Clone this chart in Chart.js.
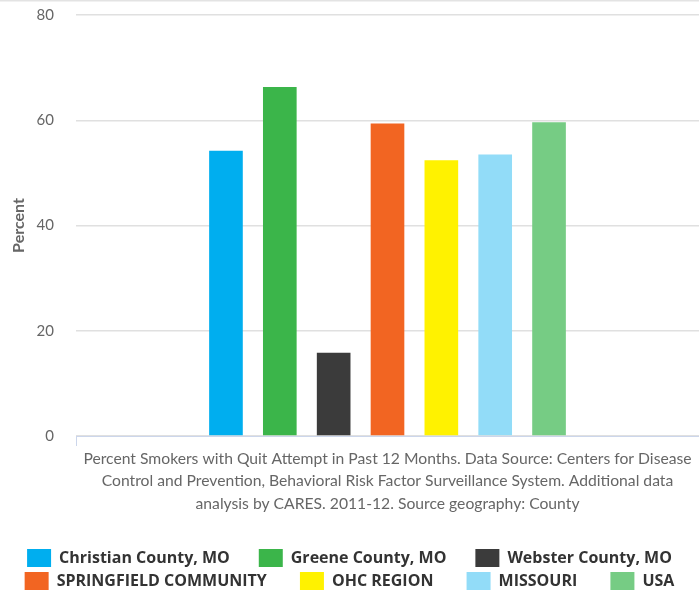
<!DOCTYPE html>
<html>
<head>
<meta charset="utf-8">
<script src="https://cdn.jsdelivr.net/npm/chart.js@4"></script>
<style>
  html, body { margin: 0; padding: 0; background: #ffffff; }
  #wrap { width: 699px; height: 590px; position: relative; }
</style>
</head>
<body>
<div id="wrap"><canvas id="c" width="699" height="590"></canvas></div>
<script>
// ---- data ----
const categoryLabel = [
  "Percent Smokers with Quit Attempt in Past 12 Months. Data Source: Centers for Disease",
  "Control and Prevention, Behavioral Risk Factor Surveillance System. Additional data",
  "analysis by CARES. 2011-12. Source geography: County"
];
const seriesNames = [
  "Christian County, MO", "Greene County, MO", "Webster County, MO",
  "SPRINGFIELD COMMUNITY", "OHC REGION", "MISSOURI", "USA"
];
const seriesValues = [54.2, 66.3, 15.8, 59.4, 52.4, 53.5, 59.6];
const seriesColors = ["#00AEEF", "#3BB54A", "#3B3B3B", "#F26522", "#FFF200", "#92DCF8", "#76CC84"];
const yTicks = [0, 20, 40, 60, 80];
const yTitle = "Percent";

const FONT = "Lato, 'Open Sans', sans-serif";
const LEGEND_FONT = "'Open Sans', Lato, sans-serif";

const topLine = {
  id: 'topLine',
  beforeDraw(chart) {
    const ctx = chart.ctx;
    ctx.save();
    ctx.strokeStyle = '#e3e3e3';
    ctx.lineWidth = 1.5;
    ctx.beginPath();
    ctx.moveTo(0, 0.75);
    ctx.lineTo(chart.width, 0.75);
    ctx.stroke();
    ctx.restore();
  }
};

// trailing gap after each legend entry (entries ending a row get none)
const legendGap = ['\u2002\u2002\u2002', '\u2002\u2002\u2002', '',
                   '\u2002\u2002\u2002 ', '\u2002\u2002\u2002 ', '\u2002\u2002\u2002 ', ''];

new Chart(document.getElementById('c'), {
  type: 'bar',
  data: {
    labels: [categoryLabel],
    datasets: seriesNames.map((name, i) => ({
      label: name,
      data: [seriesValues[i]],
      backgroundColor: seriesColors[i],
      borderWidth: 0,
      categoryPercentage: 0.605,
      barPercentage: 0.625
    }))
  },
  options: {
    responsive: false,
    animation: false,
    devicePixelRatio: 1,
    layout: { padding: { top: 0, left: 0, right: 0, bottom: -10 } },
    plugins: {
      tooltip: { enabled: false },
      legend: {
        position: 'bottom',
        align: 'center',
        labels: {
          boxWidth: 24,
          boxHeight: 18,
          padding: 5,
          color: '#333333',
          font: { family: LEGEND_FONT, size: 16, weight: 'bold' },
          generateLabels(chart) {
            const items = Chart.defaults.plugins.legend.labels.generateLabels(chart);
            items.forEach((it, i) => {
              it.text = it.text + legendGap[i];
              it.lineWidth = 0;
            });
            return items;
          }
        }
      }
    },
    scales: {
      x: {
        offset: true,
        afterFit(scale) { scale.height = 108; },
        border: { display: true, color: '#ccd6eb', width: 1 },
        grid: { display: true, drawOnChartArea: false, drawTicks: true, tickLength: 10, color: '#ccd6eb' },
        ticks: {
          color: '#666666',
          padding: 2,
          maxRotation: 0,
          autoSkip: false,
          font: { family: FONT, size: 15.7, lineHeight: 1.42 }
        }
      },
      y: {
        min: 0,
        max: 80,
        afterBuildTicks(scale) { scale.ticks = yTicks.map(v => ({ value: v })); },
        afterFit(scale) { scale.width = 76; },
        border: { display: false },
        grid: { color: '#e0e0e0', lineWidth: 1.5, drawTicks: true, tickLength: 16, tickColor: 'rgba(0,0,0,0)' },
        ticks: {
          color: '#666666',
          padding: 6,
          font: { family: FONT, size: 15 }
        },
        title: {
          display: true,
          text: yTitle,
          color: '#666666',
          padding: { top: 9, bottom: 0 },
          font: { family: FONT, size: 16, weight: 'bold' }
        }
      }
    }
  },
  plugins: [topLine]
});
</script>
</body>
</html>
